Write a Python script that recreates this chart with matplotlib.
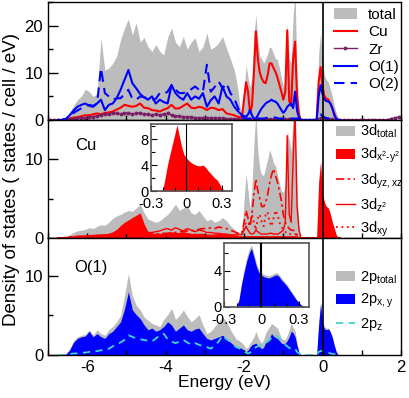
import numpy as np
import matplotlib
matplotlib.use("Agg")
import matplotlib.pyplot as plt
from matplotlib.ticker import MultipleLocator

plt.rcParams["font.family"] = ["Liberation Sans", "DejaVu Sans"]
plt.rcParams["mathtext.fontset"] = "custom"
plt.rcParams["mathtext.rm"] = "Liberation Sans"
plt.rcParams["mathtext.default"] = "rm"
plt.rcParams["axes.unicode_minus"] = False

# energy grid: 0.1 eV in the deep band, 0.05 eV from -2.2 eV up
energy = np.round(np.concatenate([np.arange(-6.75, -2.2, 0.1),
                                  np.arange(-2.20, 0.46, 0.05)]), 2)
energy_zr = np.round(np.arange(-6.95, 2.0, 0.1), 2)
energy_in = np.round(np.arange(-0.30, 0.41, 0.02), 2)

# ---- panel 1: total and site-resolved DOS ----
dos_total = [0, 0, 0.2, 1.5, 3.0, 4.3, 5.0, 6.5, 6.0, 5.0,
             5.5, 17.4, 10.5, 11.0, 12.0, 13.5, 17.0, 19.5, 21.4, 18.0,
             20.6, 16.5, 17.5, 15.5, 14.5, 16.0, 14.5, 13.8, 17.5, 19.5,
             16.5, 15.5, 17.7, 15.0, 16.5, 17.4, 14.5, 15.5, 18.4, 15.0,
             15.5, 16.3, 17.7, 15.2, 13.0, 10.5,
             8.5, 6.0, 2.5, 1.5, 6.0, 11.7, 9.0, 7.0, 9.0, 18.0,
             22.3, 17.0, 13.5, 13.0, 12.0, 13.0, 14.0, 15.5, 15.2, 14.0,
             13.0, 12.8, 11.0, 9.0, 7.0, 9.0, 20.6, 13.0, 12.0, 22.0,
             27.0, 9.0, 2.5, 0.3,
             0, 0, 0, 0, 0, 0, 0,
             0.0, 14.0, 18.5, 12.0, 9.5, 8.5, 8.0, 6.5, 5.0, 3.0, 1.5, 0.5, 0.0]
dos_cu = [0, 0, 0.1, 0.3, 0.5, 0.6, 0.8, 1.0, 1.0, 1.2,
          1.4, 1.2, 1.5, 1.6, 1.8, 2.2, 2.6, 3.2, 3.0, 2.8,
          3.0, 3.5, 2.6, 2.5, 2.1, 2.0, 1.8, 2.2, 2.5, 3.2,
          2.4, 2.5, 3.0, 3.5, 2.6, 2.5, 2.8, 2.6, 2.1, 2.6,
          2.5, 2.1, 2.3, 1.4, 1.2, 1.0,
          0.8, 0.7, 0.5, 1.0, 4.5, 8.0, 6.0, 1.5, 3.0, 10.0,
          18.8, 13.0, 10.0, 8.8, 8.0, 7.8, 9.5, 12.0, 12.0, 11.0,
          10.2, 9.0, 7.5, 6.0, 4.3, 6.0, 19.0, 4.0, 3.0, 13.0,
          16.6, 5.0, 1.0, 0.0,
          0, 0, 0, 0, 0, 0, 0,
          0.0, 8.0, 11.2, 7.0, 5.0, 4.5, 4.3, 3.5, 2.5, 1.4, 0.3, 0.0, 0.0]
dos_o1 = [0, 0, 0.2, 1.0, 2.0, 2.8, 3.2, 3.5, 3.0, 2.8,
          3.5, 4.3, 2.1, 3.2, 3.5, 4.6, 6.4, 8.5, 10.6, 7.8,
          6.7, 5.5, 4.8, 4.3, 5.0, 3.5, 4.3, 3.8, 3.5, 7.4,
          5.7, 4.8, 4.3, 5.7, 4.3, 5.0, 4.5, 5.7, 2.8, 4.2,
          5.0, 3.5, 7.1, 5.0, 4.3, 2.8,
          2.3, 1.8, 1.4, 1.0, 0.8, 0.7, 1.2, 2.1, 1.0, 0.3,
          0.3, 1.0, 1.8, 2.5, 3.0, 3.5, 3.8, 4.0, 4.3, 4.0,
          3.9, 3.5, 2.8, 2.1, 1.5, 2.0, 2.8, 3.2, 3.5, 2.5,
          6.0, 2.0, 0.5, 0.0,
          0, 0, 0, 0, 0, 0, 0,
          0.0, 5.0, 7.4, 5.5, 4.3, 4.0, 3.9, 3.5, 2.5, 1.0, 0.3, 0.0, 0.0]
dos_o2 = [0, 0, 0.2, 0.8, 1.5, 2.0, 2.5, 3.0, 3.2, 3.0,
          3.5, 11.0, 5.7, 5.0, 4.3, 4.6, 4.6, 5.5, 6.4, 4.5,
          4.3, 5.0, 4.8, 4.6, 4.3, 4.5, 5.7, 5.5, 6.0, 7.4,
          6.4, 5.7, 5.7, 6.0, 6.5, 7.1, 6.4, 6.0, 11.7, 6.0,
          7.0, 8.2, 6.7, 7.8, 5.7, 4.5,
          3.5, 2.5, 1.5, 0.8, 0.4, 0.3, 0.3, 0.3, 0.3, 0.3,
          0.3, 0.3, 0.3, 0.3, 0.3, 0.4, 0.5, 0.7, 0.7, 0.6,
          0.5, 0.4, 0.3, 0.3, 0.3, 0.3, 0.3, 0.3, 0.3, 0.3,
          0.3, 0.3, 0.2, 0.0,
          0, 0, 0, 0, 0, 0, 0,
          0.0, 0.6, 1.2, 0.8, 0.5, 0.4, 0.3, 0.3, 0.2, 0.1, 0.0, 0.0, 0.0]
dos_zr = [0, 0, 0, 0, 0.1, 0.2, 0.3, 0.4, 0.5, 0.5,
          0.6, 0.7, 0.9, 1.1, 1.2, 1.3, 1.5, 1.4, 1.3, 1.4,
          1.5, 1.3, 1.4, 1.5, 1.3, 1.2, 1.1, 1.2, 1.0, 1.3,
          1.4, 1.1, 0.9, 0.8, 0.7, 0.7, 0.6, 0.5, 0.5, 0.5,
          0.5, 0.5, 0.4, 0.4, 0.4, 0.3, 0.3, 0.3, 0.2, 0.2,
          0.2, 0.2, 0.2, 0.2, 0.2, 0.2, 0.2, 0.2, 0.2, 0.2,
          0.2, 0.2, 0.2, 0.2, 0.1, 0.05, 0.05, 0.05, 0.1, 0.5,
          0.4, 0.3, 0.2, 0.1, 0.05, 0.05, 0.05, 0.05, 0.05, 0.05,
          0.05, 0.05, 0.05, 0.05, 0.05, 0.05, 0.05, 0.3, 0.5, 0.6]

# ---- panel 2: Cu 3d orbitals ----
cu_d_total = [0, 0, 0.1, 0.4, 0.7, 0.9, 1.0, 1.1, 1.3, 1.2,
              1.5, 1.7, 1.6, 2.0, 2.5, 2.8, 3.0, 3.3, 3.5, 3.4,
              3.8, 4.3, 3.2, 2.4, 2.2, 2.0, 2.2, 2.6, 3.0, 3.6,
              4.3, 3.5, 3.8, 4.1, 3.2, 3.0, 3.5, 2.8, 2.2, 2.4,
              2.0, 2.2, 2.6, 2.2, 1.6, 1.1,
              0.8, 0.6, 0.5, 1.0, 5.0, 8.2, 6.0, 3.7, 6.5, 12.0,
              16.0, 11.0, 8.8, 8.0, 8.0, 9.0, 10.0, 11.2, 10.5, 9.5,
              9.2, 8.0, 7.0, 6.0, 5.8, 7.0, 13.5, 12.6, 11.0, 16.0,
              16.0, 5.8, 1.5, 0.0,
              0, 0, 0, 0, 0, 0, 0,
              0.0, 7.0, 9.7, 5.5, 4.5, 4.0, 3.8, 3.0, 2.0, 1.2, 0.4, 0.0, 0.0]
cu_dx2y2 = [0, 0, 0.05, 0.1, 0.2, 0.3, 0.3, 0.3, 0.4, 0.4,
            0.4, 0.5, 0.5, 0.6, 0.8, 1.1, 1.6, 2.0, 2.3, 2.6,
            2.9, 3.2, 1.8, 0.8, 0.6, 0.6, 0.6, 0.7, 0.7, 0.8,
            0.7, 0.7, 0.8, 0.7, 0.6, 0.6, 0.6, 0.6, 0.5, 0.5,
            0.5, 0.6, 0.6, 0.5, 0.5, 0.4,
            0.4, 0.3, 0.3, 0.3, 0.3, 0.3, 0.3, 0.3, 0.3, 0.3,
            0.3, 0.3, 0.3, 0.3, 0.3, 0.3, 0.3, 0.3, 0.3, 0.3,
            0.3, 0.3, 0.3, 0.3, 0.3, 0.3, 0.3, 0.3, 0.3, 0.3,
            0.3, 0.3, 0.1, 0.0,
            0, 0, 0, 0, 0, 0, 0,
            0.0, 7.0, 9.7, 5.5, 4.5, 4.0, 3.8, 3.0, 2.0, 1.2, 0.4, 0.0, 0.0]
cu_dyzxz = [0, 0, 0.05, 0.1, 0.15, 0.2, 0.2, 0.25, 0.25, 0.3,
            0.3, 0.35, 0.35, 0.4, 0.45, 0.5, 0.5, 0.55, 0.6, 0.6,
            0.6, 0.55, 0.5, 0.5, 0.5, 0.5, 0.55, 0.6, 0.6, 0.7,
            0.7, 0.8, 0.8, 0.9, 0.9, 1.0, 1.1, 1.2, 1.2, 1.3,
            1.2, 1.4, 1.3, 1.2, 1.0, 0.8,
            0.7, 0.6, 0.5, 0.8, 2.0, 3.5, 2.5, 1.5, 3.0, 5.5,
            7.5, 6.0, 5.0, 4.0, 4.0, 4.5, 5.5, 7.0, 8.0, 8.8,
            8.0, 7.1, 6.0, 4.7, 3.0, 2.0, 1.5, 1.2, 1.0, 1.0,
            0.8, 0.4, 0.1, 0.0,
            0, 0, 0, 0, 0, 0, 0,
            0, 0, 0, 0, 0, 0, 0, 0, 0, 0, 0, 0, 0]
cu_dz2 = [0, 0, 0.05, 0.1, 0.15, 0.2, 0.2, 0.25, 0.3, 0.3,
          0.35, 0.35, 0.4, 0.45, 0.5, 0.55, 0.6, 0.6, 0.6, 0.55,
          0.5, 0.5, 0.6, 0.7, 0.7, 0.8, 0.9, 1.1, 1.2, 1.0,
          1.3, 1.1, 0.9, 1.2, 1.0, 0.8, 1.0, 0.9, 0.7, 0.7,
          0.6, 0.6, 0.5, 0.5, 0.4, 0.4,
          0.5, 0.5, 0.4, 0.5, 1.0, 1.5, 1.0, 0.6, 0.5, 0.6,
          1.0, 0.8, 0.6, 0.5, 0.5, 0.5, 0.5, 0.6, 0.6, 0.5,
          0.5, 0.5, 0.6, 0.8, 1.0, 2.0, 13.0, 3.0, 2.0, 10.0,
          16.0, 4.0, 1.0, 0.0,
          0, 0, 0, 0, 0, 0, 0,
          0, 0, 0, 0, 0, 0, 0, 0, 0, 0, 0, 0, 0]
cu_dxy = [0, 0, 0.05, 0.1, 0.1, 0.15, 0.2, 0.2, 0.2, 0.2,
          0.25, 0.25, 0.3, 0.3, 0.3, 0.3, 0.3, 0.3, 0.3, 0.3,
          0.3, 0.3, 0.3, 0.3, 0.3, 0.3, 0.3, 0.3, 0.3, 0.3,
          0.3, 0.3, 0.3, 0.3, 0.3, 0.3, 0.3, 0.3, 0.3, 0.3,
          0.3, 0.3, 0.3, 0.3, 0.3, 0.3,
          0.3, 0.3, 0.3, 0.5, 1.5, 2.0, 2.0, 1.5, 3.0, 2.0,
          1.0, 2.5, 3.0, 2.0, 1.5, 3.0, 3.3, 2.0, 1.5, 2.5,
          3.5, 3.0, 2.0, 1.5, 1.0, 0.8, 0.5, 0.5, 0.5, 0.5,
          0.5, 0.3, 0.1, 0.0,
          0, 0, 0, 0, 0, 0, 0,
          0, 0, 0, 0, 0, 0, 0, 0, 0, 0, 0, 0, 0]

# ---- panel 3: O(1) 2p orbitals ----
o_p_total = [0, 0, 0.1, 0.8, 1.8, 2.3, 2.5, 2.6, 3.2, 2.5,
             3.2, 2.7, 2.5, 3.2, 3.6, 4.2, 5.0, 7.5, 10.3, 7.5,
             6.3, 5.7, 4.8, 4.4, 4.0, 3.8, 3.6, 4.5, 5.1, 5.9,
             4.5, 5.0, 5.7, 4.9, 4.2, 4.6, 5.1, 3.8, 2.7, 3.0,
             3.6, 4.2, 4.9, 4.2, 3.2, 2.4,
             2.0, 1.9, 1.7, 1.5, 1.2, 0.8, 1.0, 1.5, 1.9, 2.3,
             3.0, 2.3, 1.8, 1.5, 2.0, 2.8, 3.2, 3.6, 4.0, 3.8,
             3.6, 3.4, 2.8, 2.1, 2.0, 1.9, 2.5, 3.2, 4.0, 3.5,
             3.0, 1.5, 0.4, 0.0,
             0, 0, 0, 0, 0, 0, 0,
             0.0, 4.0, 6.8, 4.2, 3.6, 3.4, 3.4, 3.0, 2.3, 1.3, 0.4, 0.0, 0.0]
o_pxy = [0, 0, 0.1, 0.6, 1.6, 2.1, 2.3, 2.4, 3.0, 2.3,
         2.7, 2.3, 2.1, 2.7, 3.0, 3.6, 4.2, 5.8, 8.0, 5.7,
         5.1, 4.6, 3.8, 3.2, 3.4, 3.0, 3.2, 3.6, 4.2, 3.8,
         3.0, 3.4, 3.8, 3.2, 3.0, 3.3, 3.4, 2.7, 2.1, 1.9,
         2.1, 2.3, 2.5, 2.1, 1.6, 1.2,
         1.1, 1.0, 0.9, 0.8, 0.6, 0.4, 0.6, 1.0, 1.3, 1.4,
         1.5, 1.2, 1.0, 0.8, 1.0, 1.6, 1.9, 2.2, 2.7, 2.4,
         2.2, 2.1, 1.8, 1.5, 1.4, 1.5, 1.8, 2.3, 3.0, 2.8,
         2.3, 1.2, 0.3, 0.0,
         0, 0, 0, 0, 0, 0, 0,
         0.0, 3.8, 6.5, 4.0, 3.3, 3.2, 3.3, 2.9, 2.2, 1.2, 0.4, 0.0, 0.0]
o_pz = [0, 0, 0.05, 0.1, 0.2, 0.2, 0.3, 0.3, 0.4, 0.4,
        0.5, 0.6, 0.6, 0.8, 1.1, 1.3, 1.6, 1.9, 2.5, 2.3,
        2.1, 2.0, 1.9, 1.8, 1.7, 2.1, 2.5, 2.7, 2.0, 1.7,
        1.5, 1.7, 1.9, 1.6, 1.3, 1.5, 1.3, 1.1, 1.0, 0.8,
        1.2, 1.7, 2.5, 2.0, 1.7, 1.2,
        1.0, 0.9, 0.8, 0.6, 0.4, 0.3, 0.2, 0.3, 0.5, 0.8,
        1.0, 1.1, 1.2, 1.3, 1.3, 1.5, 1.7, 1.9, 2.2, 2.4,
        2.5, 2.3, 2.1, 1.8, 1.5, 1.3, 1.1, 0.9, 0.8, 0.9,
        0.8, 0.4, 0.2, 0.0,
        0, 0, 0, 0, 0, 0, 0,
        0.0, 0.4, 0.5, 0.5, 0.4, 0.3, 0.3, 0.2, 0.15, 0.1, 0.05, 0.0, 0.0]

# ---- insets: zoom on the Fermi level ----
inset_cu_dx2y2 = [0, 0, 0, 0, 0.05, 0.2, 2.0, 4.0, 5.6, 7.1,
                  8.6, 10.2, 8.5, 6.8, 5.6, 5.1, 4.7, 4.4, 4.15, 4.0,
                  3.9, 3.9, 4.0, 3.7, 3.2, 2.8, 2.4, 2.0, 1.7, 1.1,
                  0.4, 0.15, 0.1, 0.05, 0, 0]
inset_o_total = [0, 0, 0, 0, 0, 0.05, 0.9, 2.7, 4.1, 5.4,
                 6.3, 6.9, 5.9, 4.8, 4.1, 3.8, 3.6, 3.5, 3.45, 3.55,
                 3.7, 3.8, 3.65, 3.25, 2.9, 2.6, 2.2, 1.75, 1.35, 0.9,
                 0.55, 0.25, 0.08, 0, 0, 0]
inset_o_pxy = [0, 0, 0, 0, 0, 0.05, 0.8, 2.5, 3.8, 5.0,
               5.9, 6.5, 5.5, 4.5, 3.8, 3.5, 3.35, 3.25, 3.2, 3.3,
               3.45, 3.55, 3.4, 3.0, 2.7, 2.4, 2.0, 1.6, 1.2, 0.8,
               0.5, 0.2, 0.05, 0, 0, 0]

GRAY = "#bcbcbc"
RED = "#ff0000"
BLUE = "#0000ff"
CYAN = "#3fd8cc"
PURPLE = "#7a1f66"
FS = 12


def style_main(ax, ymax, show_x):
    ax.set_xlim(-7, 2)
    ax.set_ylim(0, ymax)
    ax.xaxis.set_major_locator(MultipleLocator(2))
    ax.xaxis.set_minor_locator(MultipleLocator(1))
    ax.yaxis.set_major_locator(MultipleLocator(10))
    ax.yaxis.set_minor_locator(MultipleLocator(5))
    ax.tick_params(which="both", direction="in", width=1, labelsize=FS)
    ax.tick_params(axis="x", which="both", length=3.8, labelbottom=show_x)
    ax.tick_params(axis="y", which="major", length=7)
    ax.tick_params(axis="y", which="minor", length=3.5)
    for s in ax.spines.values():
        s.set_linewidth(1.0)
    ax.axvline(0, color="k", lw=1.2, zorder=6)


def style_inset(ax, ymax, zero_lw):
    ax.set_xlim(-0.3, 0.385)
    ax.set_ylim(0, ymax)
    ax.xaxis.set_major_locator(MultipleLocator(0.3))
    ax.xaxis.set_minor_locator(MultipleLocator(0.1))
    ax.yaxis.set_major_locator(MultipleLocator(4))
    ax.yaxis.set_minor_locator(MultipleLocator(2))
    ax.tick_params(which="both", direction="in", width=0.8, labelsize=10.5)
    ax.tick_params(axis="x", pad=4.5)
    ax.tick_params(axis="y", pad=1.5)
    ax.tick_params(which="major", length=4)
    ax.tick_params(which="minor", length=3)
    ax.xaxis.set_major_formatter(plt.FuncFormatter(lambda v, p: "0" if abs(v) < 1e-9 else f"{v:.1f}"))
    for s in ax.spines.values():
        s.set_linewidth(1.2)
        s.set_edgecolor("#555555")
    ax.axvline(0, color="k", lw=zero_lw, zorder=6)


fig = plt.figure(figsize=(4.09, 3.98), dpi=100)
ax1 = fig.add_axes([0.1174, 0.6985, 0.863, 0.2965])
ax2 = fig.add_axes([0.1174, 0.402, 0.863, 0.2965])
ax3 = fig.add_axes([0.1174, 0.108, 0.863, 0.294])

leg_kw = dict(loc="upper left", frameon=False, borderaxespad=0, borderpad=0)

# panel 1
ax1.fill_between(energy, 0, dos_total, color=GRAY, lw=0, label="total")
ax1.plot(energy, dos_cu, color=RED, lw=1.5, label="Cu")
ax1.plot(energy_zr, dos_zr, color=PURPLE, lw=1.0, marker="o", ms=1.8, label="Zr")
ax1.plot(energy, dos_o1, color=BLUE, lw=1.5, label="O(1)")
ax1.plot(energy, dos_o2, color=BLUE, lw=1.5, dashes=(5, 3), label="O(2)")
style_main(ax1, 25, False)
ax1.legend(bbox_to_anchor=(0.81, 0.95), fontsize=11, handlelength=1.5,
           handletextpad=0.75, labelspacing=0.22, **leg_kw)

# panel 2
ax2.fill_between(energy, 0, cu_d_total, color=GRAY, lw=0, label="3d$_{total}$")
ax2.fill_between(energy, 0, cu_dx2y2, color=RED, lw=0, label="3d$_{x^2\u2010y^2}$")
ax2.plot(energy, cu_dyzxz, color=RED, lw=1.2, dashes=(5, 2, 1.5, 2), label="3d$_{yz,xz}$")
ax2.plot(energy, cu_dz2, color=RED, lw=1.0, label="3d$_{z^2}$")
ax2.plot(energy, cu_dxy, color=RED, lw=1.3, dashes=(1, 2), label="3d$_{xy}$")
style_main(ax2, 15, False)
ax2.text(0.108, 0.78, "Cu", transform=ax2.transAxes, fontsize=FS, ha="center", va="center")
ax2.legend(bbox_to_anchor=(0.816, 0.975), fontsize=10.5, handlelength=1.3,
           handletextpad=0.35, labelspacing=0.4, **leg_kw)

# panel 3
ax3.fill_between(energy, 0, o_p_total, color=GRAY, lw=0, label="2p$_{total}$")
ax3.fill_between(energy, 0, o_pxy, color=BLUE, lw=0, label="2p$_{x,y}$")
ax3.plot(energy, o_pz, color=CYAN, lw=1.3, dashes=(4, 3), label="2p$_{z}$")
style_main(ax3, 14.8, True)
ax3.text(0.122, 0.752, "O(1)", transform=ax3.transAxes, fontsize=FS, ha="center", va="center")
ax3.legend(bbox_to_anchor=(0.816, 0.735), fontsize=10.5, handlelength=1.3,
           handletextpad=0.35, labelspacing=0.4, **leg_kw)

# insets
in2 = fig.add_axes([0.369, 0.520, 0.198, 0.168])
in2.fill_between(energy_in, 0, inset_cu_dx2y2, color=RED, lw=0)
style_inset(in2, 10.3, 0.8)

in3 = fig.add_axes([0.548, 0.229, 0.208, 0.161])
in3.fill_between(energy_in, 0, inset_o_total, color=GRAY, lw=0)
in3.fill_between(energy_in, 0, inset_o_pxy, color=BLUE, lw=0)
style_inset(in3, 7.1, 1.5)

fig.text(0.027, 0.55, "Density of states ( states / cell / eV)", rotation=90,
         ha="center", va="center", fontsize=13.5)
fig.text(0.549, 0.038, "Energy (eV)", ha="center", va="center", fontsize=12.5)

fig.savefig("out.png", dpi=100)
